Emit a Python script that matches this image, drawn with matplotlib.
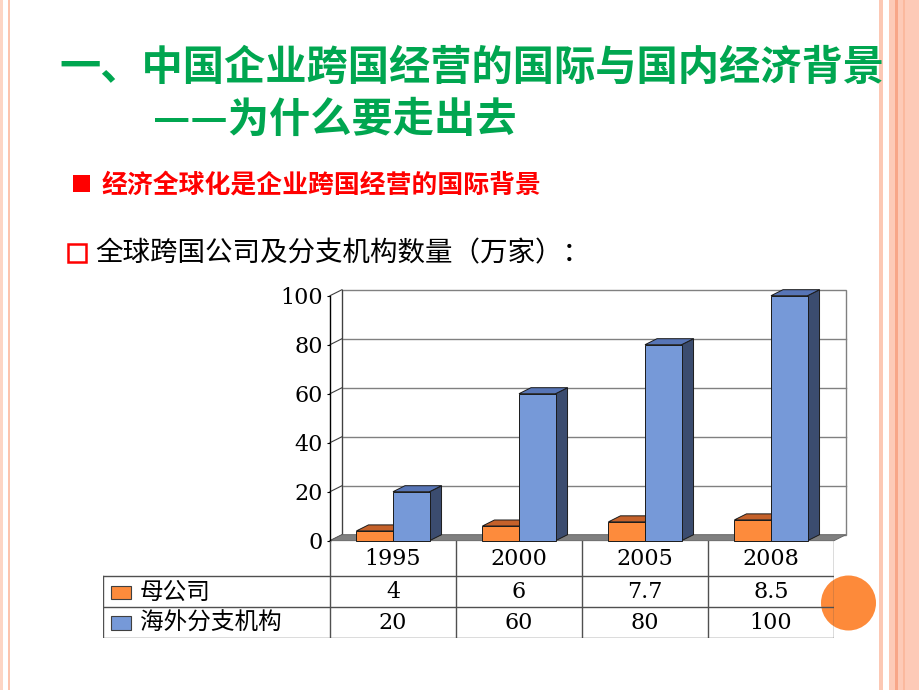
#!/usr/bin/env python3

"""
plot.py - 全球跨国公司及分支机构数量 slide, 3D-style bar chart with data table
"""

import matplotlib
matplotlib.use("Agg")
import matplotlib.pyplot as plt
from matplotlib.patches import Polygon, Rectangle, Ellipse

# chart data
years = ['1995', '2000', '2005', '2008']
series_names = ['母公司', '海外分支机构']
parent_companies = [4, 6, 7.7, 8.5]
overseas_branches = [20, 60, 80, 100]
y_ticks = [0, 20, 40, 60, 80, 100]

title_line1 = '一、中国企业跨国经营的国际与国内经济背景'
title_line2 = '——为什么要走出去'
bullet1 = '经济全球化是企业跨国经营的国际背景'
bullet2 = '全球跨国公司及分支机构数量（万家）：'

W, H = 920, 690
CJK = ['Noto Sans CJK SC', 'DejaVu Sans']
SERIF = 'DejaVu Serif'

front_colors = ['#fd8b3c', '#7699d8']
top_colors = ['#c5612a', '#5775b6']
side_colors = ['#a04e20', '#3b4c6f']


def fx(x):
    return x / W


def fy(y):
    return 1 - y / H


fig = plt.figure(figsize=(W / 100, H / 100), dpi=100)
fig.patch.set_facecolor('white')

# decorative borders
for x0, x1, c in [(0, 3, '#fdd5c4'), (8, 10, '#fcc4ae'),
                  (879, 883.5, '#fcc8b4'), (889, 920, '#fdcab7'),
                  (895.5, 898, '#f8a688'), (903.5, 905, '#fbb99e')]:
    fig.add_artist(Rectangle((fx(x0), 0), (x1 - x0) / W, 1,
                             transform=fig.transFigure, color=c, lw=0, zorder=0))

# title and bullets
fig.text(fx(59), fy(68), title_line1, family=CJK, weight='bold', fontsize=29.7,
         color='#00a650', ha='left', va='center')
fig.text(fx(153), fy(120), title_line2, family=CJK, weight='bold', fontsize=29.7,
         color='#00a650', ha='left', va='center')

fig.add_artist(Rectangle((fx(73.5), fy(192)), 16.5 / W, 17 / H,
                         transform=fig.transFigure, color='#ff0000', lw=0))
fig.text(fx(102), fy(185), bullet1, family=CJK, weight='bold', fontsize=18.6,
         color='#ff0000', ha='left', va='center')

fig.add_artist(Rectangle((fx(68.5), fy(261.5)), 18 / W, 17.5 / H,
                         transform=fig.transFigure, facecolor='none',
                         edgecolor='#ff0000', lw=1.8))
fig.text(fx(95), fy(254), bullet2, family=CJK, fontsize=19.8,
         color='black', ha='left', va='center')

# main chart (front plane), x in category units, y in values
ax = fig.add_axes([fx(330), fy(540.7), (834 - 330) / W, (540.7 - 295.7) / H])
ax.set_xlim(0, 4)
ax.set_ylim(0, 100)
ax.patch.set_alpha(0)
n = len(years)
dx = 12 / 126.0           # depth offset, category units
dy = 6 / 2.45             # depth offset, value units

# back wall + gridlines
ax.add_patch(Rectangle((dx, dy), n, 100, facecolor='white', edgecolor='#808080',
                       lw=1, clip_on=False, zorder=1))
for v in y_ticks[1:-1]:
    ax.plot([dx, n + dx], [v + dy, v + dy], color='#808080', lw=1,
            clip_on=False, zorder=1.5)
# left side wall
for v in y_ticks:
    ax.plot([0, dx], [v, v + dy], color='#404040', lw=0.8, clip_on=False, zorder=1.5)
ax.plot([dx, dx], [dy, 100 + dy], color='#404040', lw=0.8, clip_on=False, zorder=1.5)
# floor
ax.add_patch(Polygon([(0, 0), (n, 0), (n + dx, dy), (dx, dy)], closed=True,
                     facecolor='#808080', edgecolor='#606060', lw=0.6,
                     clip_on=False, zorder=2))

# bars
bw = 0.29
for i in range(n):
    for s, vals in enumerate([parent_companies, overseas_branches]):
        x0 = i + 0.5 - bw + s * bw
        v = vals[i]
        ax.bar(x0, v, width=bw, align='edge', color=front_colors[s],
               edgecolor='#1a1a1a', lw=0.7, zorder=3 + i + s * 0.5, clip_on=False)
        ax.add_patch(Polygon([(x0, v), (x0 + bw, v), (x0 + bw + dx, v + dy), (x0 + dx, v + dy)],
                             closed=True, facecolor=top_colors[s], edgecolor='#1a1a1a',
                             lw=0.7, clip_on=False, zorder=3 + i + s * 0.5))
        ax.add_patch(Polygon([(x0 + bw, 0), (x0 + bw + dx, dy), (x0 + bw + dx, v + dy), (x0 + bw, v)],
                             closed=True, facecolor=side_colors[s], edgecolor='#1a1a1a',
                             lw=0.7, clip_on=False, zorder=2.9 + i + s * 0.5))

for side in ['top', 'right', 'bottom']:
    ax.spines[side].set_visible(False)
ax.spines['left'].set_color('black')
ax.spines['left'].set_linewidth(1)
ax.spines['left'].set_zorder(10)
ax.set_xticks([])
ax.set_yticks(y_ticks)
ax.tick_params(axis='y', length=2, width=0.8, pad=3, labelsize=16)
for lab in ax.get_yticklabels():
    lab.set_family(SERIF)

# orange decoration circle (under table lines)
fig.add_artist(Ellipse((fx(848.5), fy(603)), 55 / W, 55 / H,
                       transform=fig.transFigure, color='#fd8a3a', lw=0, zorder=0.5))

# data table under the chart
label_w = (330 - 103) / 126.0
tab = fig.add_axes([fx(103), fy(637.5), (834 - 103) / W, (637.5 - 540.7) / H], zorder=2)
tab.set_xlim(-label_w, n)
tab.set_ylim(96.8, 0)
tab.axis('off')
line_kw = dict(color='#505050', lw=1)
for c in range(n + 1):
    tab.plot([c, c], [0, 96.8], **line_kw)
tab.plot([-label_w, -label_w], [35.3, 96.8], **line_kw)
for yy in [35.3, 66.6, 96.8]:
    tab.plot([-label_w, n], [yy, yy], **line_kw)

for i, yr in enumerate(years):
    tab.text(i + 0.5, 18.5, yr, family=SERIF, fontsize=16, ha='center', va='center')
row_y = [51.5, 82.2]
for s, vals in enumerate([parent_companies, overseas_branches]):
    y = row_y[s]
    tab.add_patch(Rectangle((-label_w + 0.061, y - 6.5), 0.158, 13.5,
                            facecolor=front_colors[s], edgecolor='#404040', lw=0.8))
    tab.text(-label_w + 0.29, y, series_names[s], family=CJK, fontsize=17,
             ha='left', va='center')
    for i, v in enumerate(vals):
        tab.text(i + 0.5, y, f'{v:g}', family=SERIF, fontsize=16,
                 ha='center', va='center')

fig.savefig('out.png', dpi=100)
